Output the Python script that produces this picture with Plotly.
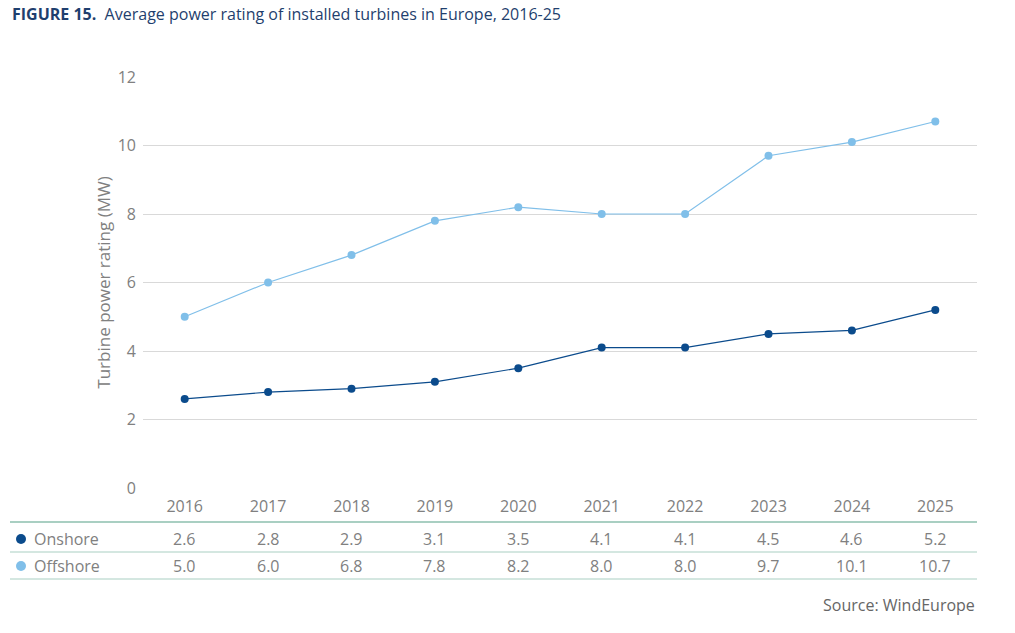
import plotly.graph_objects as go

years = ["2016", "2017", "2018", "2019", "2020", "2021", "2022", "2023", "2024", "2025"]
onshore = [2.6, 2.8, 2.9, 3.1, 3.5, 4.1, 4.1, 4.5, 4.6, 5.2]
offshore = [5.0, 6.0, 6.8, 7.8, 8.2, 8.0, 8.0, 9.7, 10.1, 10.7]
y_ticks = [0, 2, 4, 6, 8, 10, 12]

ON_COL = "#0b4b8c"
OFF_COL = "#80bfe9"
GRAY = "#808080"
FONT = "Open Sans"

W, H = 1015, 633
L, R, T, B = 143, 977, 77, 488


def px(xp):
    return (xp - L) / (R - L)


def py(yp):
    return (B - yp) / (B - T)


fig = go.Figure()
fig.add_trace(go.Scatter(x=years, y=offshore, mode="lines+markers", name="Offshore",
                         line=dict(color=OFF_COL, width=1.2), marker=dict(size=8, color=OFF_COL)))
fig.add_trace(go.Scatter(x=years, y=onshore, mode="lines+markers", name="Onshore",
                         line=dict(color=ON_COL, width=1.2), marker=dict(size=8, color=ON_COL)))

rows = [("Onshore", onshore, ON_COL, 539), ("Offshore", offshore, OFF_COL, 566)]
ann = []
shapes = []
for label, vals, col, ypx in rows:
    yp = py(ypx)
    shapes.append(dict(type="circle", xref="paper", yref="paper",
                       x0=px(16), x1=px(26), y0=py(ypx + 5), y1=py(ypx - 5),
                       fillcolor=col, line=dict(width=0)))
    ann.append(dict(x=px(32), y=yp, xref="paper", yref="paper", text=label,
                    showarrow=False, xanchor="left", yanchor="middle", font=dict(size=16, color=GRAY, family=FONT)))
    for i, v in enumerate(vals):
        ann.append(dict(x=i, y=yp, xref="x", yref="paper", text=f"{v:.1f}", showarrow=False,
                        xanchor="center", yanchor="middle", font=dict(size=16, color=GRAY, family=FONT)))

ann.append(dict(x=px(10), y=py(14), xref="paper", yref="paper",
                text="<b>FIGURE 15.</b>  Average power rating of installed turbines in Europe, 2016-25",
                showarrow=False, xanchor="left", yanchor="middle",
                font=dict(size=16, color="#1f3f6e", family="Open Sans")))
ann.append(dict(x=px(977), y=py(605), xref="paper", yref="paper", text="Source: WindEurope",
                showarrow=False, xanchor="right", yanchor="middle", font=dict(size=16, color="#666666", family=FONT)))

for ypx, w in [(522, 2), (552, 1), (579, 1)]:
    shapes.append(dict(type="line", xref="paper", yref="paper", x0=px(10), x1=px(977),
                       y0=py(ypx), y1=py(ypx), line=dict(color="#a9cfc2", width=w)))

fig.update_layout(
    width=W, height=H,
    margin=dict(l=L, r=W - R, t=T, b=H - B),
    plot_bgcolor="white", paper_bgcolor="white",
    showlegend=False,
    annotations=ann, shapes=shapes,
    font=dict(family=FONT, color=GRAY),
    xaxis=dict(type="category", range=[-0.5, 9.5], showgrid=False, showline=False, zeroline=False,
               tickfont=dict(size=16, color=GRAY, family=FONT), ticks="", ticklabelstandoff=7),
    yaxis=dict(range=[0, 12], tickvals=y_ticks, showgrid=True, gridcolor="#d9d9d9", gridwidth=1,
               zeroline=False, showline=False, ticks="", tickfont=dict(size=16, color=GRAY, family=FONT),
               title=dict(text="Turbine power rating (MW)", font=dict(size=17, color=GRAY, family=FONT), standoff=2),
               ticklabelstandoff=6),
)
fig.write_html("out.html")
